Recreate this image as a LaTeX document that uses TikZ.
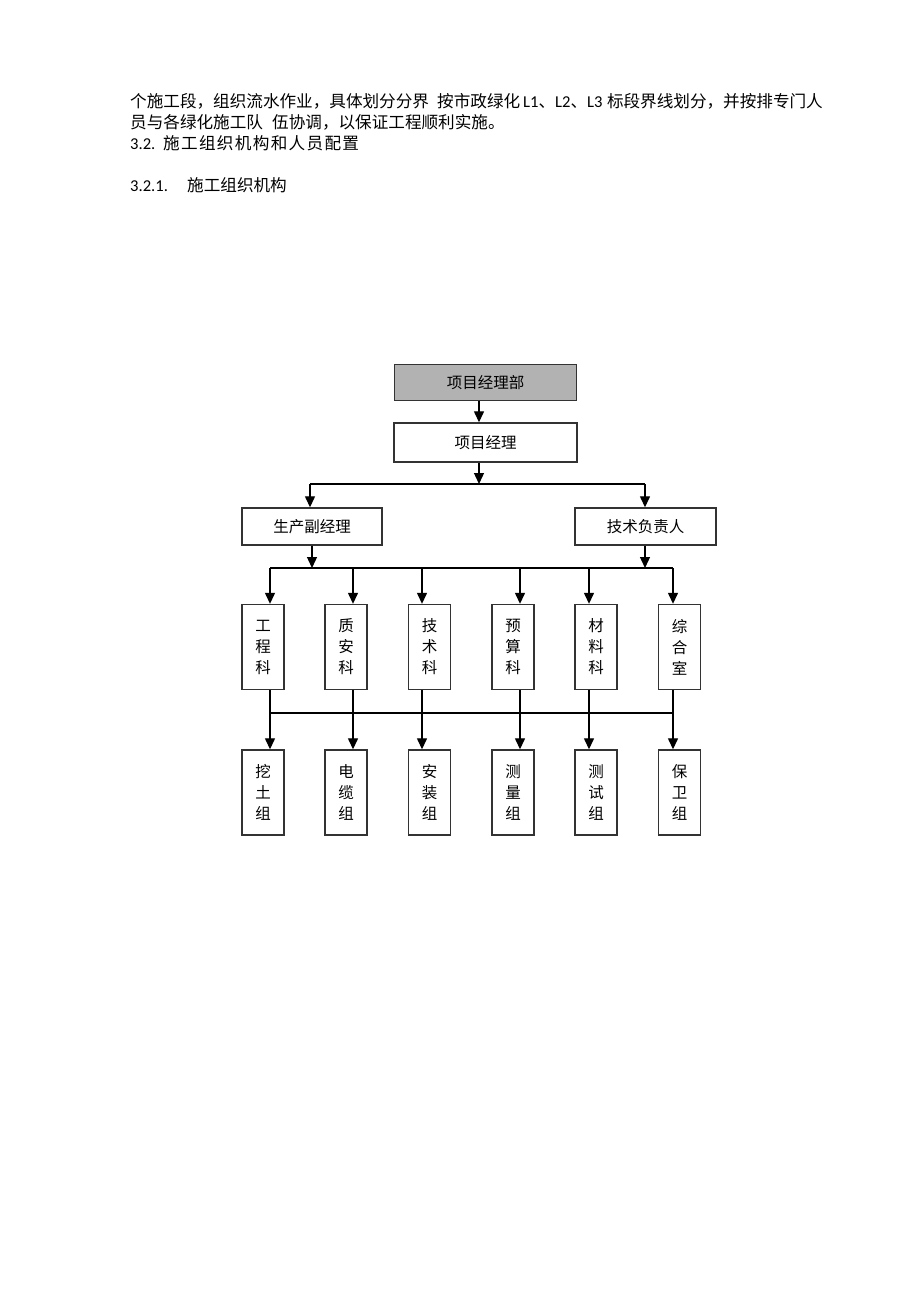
\documentclass[tikz,border=0pt]{standalone}
\usepackage{fontspec}
\newfontfamily\cjk{Noto Sans CJK SC}
\newfontfamily\cjkwide[LetterSpace=8]{Noto Sans CJK SC}
\newfontfamily\lat{Carlito}
\usetikzlibrary{arrows.meta}
\begin{document}
\begin{tikzpicture}[x=1pt,y=-1pt,
  box/.style={draw=black!80, line width=1.4pt, inner sep=0pt, font=\cjk\fontsize{15.5}{21}\selectfont, align=center},
  hbox/.style={box, minimum height=37pt},
  vbox/.style={box, minimum width=42pt, minimum height=85pt},
  ln/.style={line width=1.3pt, black},
  arr/.style={ln, -{Triangle[length=11pt,width=10pt]}},
  para/.style={anchor=base west, inner sep=0pt, font=\cjk\fontsize{16.6}{21}\selectfont}]
\useasboundingbox[fill=white] (0,0) rectangle (920,1302);

% text above
\node[para] (t1a) at (130,107) {个施工段，组织流水作业，具体划分分界};
\node[para] (t1b) at (437,107) {按市政绿化};
\node[para] (t1c) at (523,107) {{\lat L1}、{\lat L2}、{\lat L3}};
\node[para, anchor=base east] (t1d) at (823,107) {标段界线划分，并按排专门人};
\node[para] (t2a) at (130,128) {员与各绿化施工队};
\node[para] (t2b) at (272,128) {伍协调，以保证工程顺利实施。};
\node[para] (t3a) at (130,149) {\lat 3.2.};
\node[para, font=\cjkwide\fontsize{16.6}{21}\selectfont] (t3b) at (163,149) {施工组织机构和人员配置};
\node[para] (t4a) at (130,191) {\lat 3.2.1.};
\node[para] (t4b) at (187,191) {施工组织机构};

% boxes
\node[hbox, fill=black!30, minimum width=182pt, minimum height=36pt] (pmd) at (485.5,382.5) {项目经理部};
\node[hbox, minimum width=183pt, minimum height=39pt] (pm) at (485.5,442.5) {项目经理};
\node[hbox, minimum width=140pt] (gm) at (312,526.5) {生产副经理};
\node[hbox, minimum width=141pt] (tech) at (645.5,526.5) {技术负责人};

\node[vbox] (m1) at (263,647) {工\\程\\科};
\node[vbox] (m2) at (346,647) {质\\安\\科};
\node[vbox] (m3) at (429.5,647) {技\\术\\科};
\node[vbox] (m4) at (513,647) {预\\算\\科};
\node[vbox] (m5) at (596,647) {材\\料\\科};
\node[vbox] (m6) at (679.5,647) {综\\合\\室};

\node[vbox] (b1) at (263,792.5) {挖\\土\\组};
\node[vbox] (b2) at (346,792.5) {电\\缆\\组};
\node[vbox] (b3) at (429.5,792.5) {安\\装\\组};
\node[vbox] (b4) at (513,792.5) {测\\量\\组};
\node[vbox] (b5) at (596,792.5) {测\\试\\组};
\node[vbox] (b6) at (679.5,792.5) {保\\卫\\组};

% coordinates
\coordinate (xa) at (479,0);
\coordinate (h1L) at (310,484);
\coordinate (h1R) at (645,484);
\coordinate (xg) at (312,0);
\coordinate (xt) at (645,0);
\coordinate (h2L) at (270,568);
\coordinate (h2R) at (673,568);
\coordinate (h3L) at (270,713);
\coordinate (h3R) at (673,713);
\coordinate (c1) at (270,0);
\coordinate (c2) at (353,0);
\coordinate (c3) at (422,0);
\coordinate (c4) at (520,0);
\coordinate (c5) at (589,0);
\coordinate (c6) at (673,0);

% connectors
\draw[arr] (pmd.south -| xa) -- (pm.north -| xa);
\draw[arr] (pm.south -| xa) -- (xa |- h1L);
\draw[ln] (h1L) -- (h1R);
\draw[arr] (h1L) -- (gm.north -| h1L);
\draw[arr] (h1R) -- (tech.north -| h1R);
\draw[arr] (gm.south -| xg) -- (xg |- h2L);
\draw[arr] (tech.south -| xt) -- (xt |- h2R);
\draw[ln] (h2L) -- (h2R);
\foreach \i in {1,...,6}{
  \draw[arr] (c\i |- h2L) -- (m\i.north -| c\i);
  \draw[arr] (m\i.south -| c\i) -- (b\i.north -| c\i);
}
\draw[ln] (h3L) -- (h3R);
\end{tikzpicture}
\end{document}
